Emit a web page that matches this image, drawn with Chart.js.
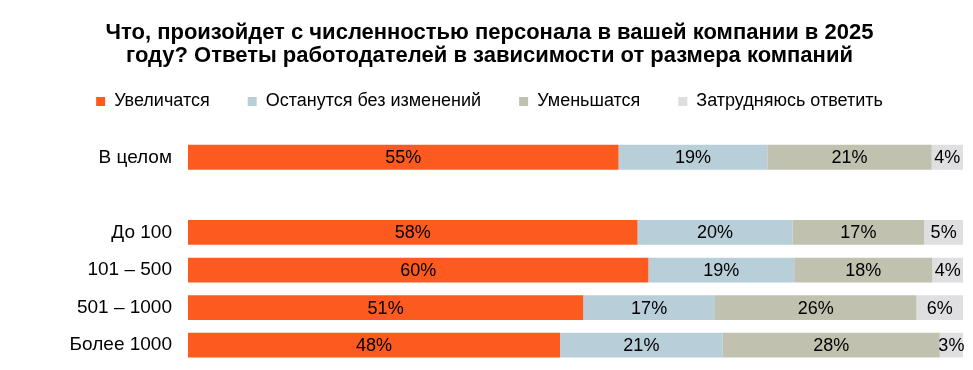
<!DOCTYPE html>
<html>
<head>
<meta charset="utf-8">
<script src="https://cdn.jsdelivr.net/npm/chart.js@4"></script>
<style>
  body { margin: 0; background: #fff; }
  #wrap { width: 973px; height: 370px; }
</style>
</head>
<body>
<div id="wrap"><canvas id="myChart"></canvas></div>
<script>
const categories = ["В целом", "", "До 100", "101 – 500", "501 – 1000", "Более 1000"];
const seriesNames = ["Увеличатся", "Останутся без изменений", "Уменьшатся", "Затрудняюсь ответить"];
const increase  = [55, null, 58, 60, 51, 48];
const unchanged = [19, null, 20, 19, 17, 21];
const decrease  = [21, null, 17, 18, 26, 28];
const noAnswer  = [4,  null, 5,  4,  6,  3];
const colors = ["#FC5A1E", "#B8CED9", "#C1C1AF", "#DFDFE1"];

const raw = [increase, unchanged, decrease, noAnswer];

// 100% stacked: scale each row to its total
const totals = categories.map((c, i) => raw.reduce((s, arr) => s + (arr[i] || 0), 0));
const share = arr => arr.map((v, i) => v == null ? null : v / totals[i] * 100);

Chart.defaults.font.family = "'Liberation Sans', Arial, sans-serif";
Chart.defaults.color = "#000";

const segmentLabels = {
  id: "segmentLabels",
  afterDatasetsDraw(chart) {
    const ctx = chart.ctx;
    ctx.save();
    ctx.font = "18px 'Liberation Sans', Arial, sans-serif";
    ctx.fillStyle = "#000";
    ctx.textAlign = "center";
    ctx.textBaseline = "middle";
    chart.data.datasets.forEach((ds, d) => {
      const meta = chart.getDatasetMeta(d);
      meta.data.forEach((bar, i) => {
        const v = raw[d][i];
        if (v == null) return;
        const p = bar.getProps(["x", "y", "base"], true);
        ctx.fillText(v + "%", (p.x + p.base) / 2, p.y + 1);
      });
    });
    ctx.restore();
  }
};

const data = {
  labels: categories,
  datasets: raw.map((arr, k) => ({
    label: seriesNames[k],
    data: share(arr),
    backgroundColor: colors[k],
    borderWidth: 0,
    barPercentage: 0.66,
    categoryPercentage: 1
  }))
};

const config = {
  type: "bar",
  data: data,
  options: {
    indexAxis: "y",
    responsive: true,
    maintainAspectRatio: false,
    animation: false,
    layout: { padding: { left: 8, right: 2, top: 0, bottom: 6 } },
    scales: {
      x: {
        stacked: true,
        position: "top",
        min: 0,
        max: 100,
        ticks: { display: false },
        grid: { display: false },
        border: { display: false },
        title: { display: true, text: "", font: { size: 10, lineHeight: 1 }, padding: 0 }
      },
      y: {
        stacked: true,
        grid: { display: false },
        border: { display: false },
        ticks: { font: { size: 19 }, padding: 8, color: "#000" },
        afterFit(scale) {
          scale.width = 180;
          scale.paddingTop = 0;
          scale.paddingBottom = 0;
        }
      },
      yRight: {
        position: "right",
        grid: { display: false },
        border: { display: false },
        ticks: { display: false },
        afterFit(scale) {
          scale.width = 8;
          scale.paddingTop = 0;
          scale.paddingBottom = 0;
        }
      }
    },
    plugins: {
      title: {
        display: true,
        text: [
          "Что, произойдет с численностью персонала в вашей компании в 2025",
          "году? Ответы работодателей в зависимости от размера компаний"
        ],
        font: { size: 22, weight: "bold", lineHeight: 1.045 },
        color: "#000",
        padding: { top: 21, bottom: -12.5 }
      },
      legend: {
        position: "top",
        labels: { boxWidth: 9, boxHeight: 9, padding: 38, font: { size: 18 }, color: "#000" }
      },
      tooltip: { enabled: false }
    }
  },
  plugins: [segmentLabels]
};

const myChart = new Chart(document.getElementById("myChart"), config);
</script>
</body>
</html>
